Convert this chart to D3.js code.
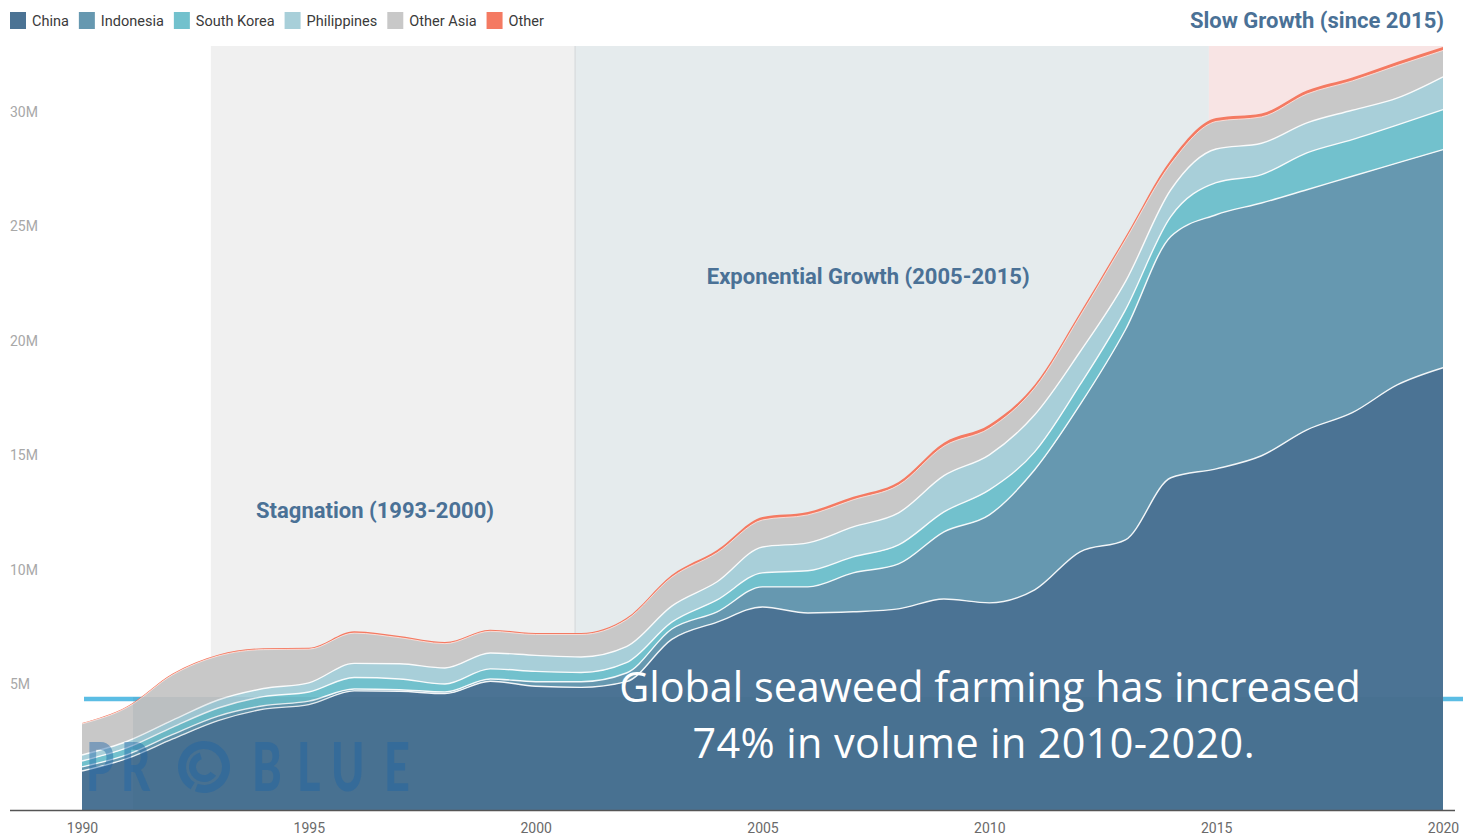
<!DOCTYPE html>
<html>
<head>
<meta charset="utf-8">
<script src="https://cdn.jsdelivr.net/npm/d3@7"></script>
<style>
  html, body { margin: 0; padding: 0; background: #fff; }
  svg { display: block; }
</style>
</head>
<body>
<svg id="chart" width="1463" height="835"></svg>
<script>
// ---- data (million tonnes, per producer) ----
const years = [1990,1991,1992,1993,1994,1995,1996,1997,1998,1999,2000,2001,2002,2003,2004,2005,2006,2007,2008,2009,2010,2011,2012,2013,2014,2015,2016,2017,2018,2019,2020];
const china      = [1.70,2.25,3.10,3.90,4.40,4.60,5.20,5.18,5.08,5.62,5.40,5.35,5.60,7.45,8.20,8.86,8.60,8.65,8.78,9.21,9.04,9.61,11.27,11.79,14.50,14.89,15.46,16.59,17.34,18.56,19.30];
const indonesia  = [0.18,0.17,0.20,0.20,0.15,0.15,0.08,0.07,0.07,0.10,0.20,0.25,0.38,0.45,0.45,0.88,1.14,1.70,1.96,2.93,3.84,5.24,6.42,9.17,10.53,11.09,11.03,10.48,10.32,9.68,9.52];
const southKorea = [0.26,0.30,0.32,0.35,0.40,0.40,0.50,0.47,0.35,0.44,0.45,0.40,0.45,0.30,0.52,0.61,0.70,0.70,0.83,0.87,1.09,0.78,0.87,0.87,0.87,1.40,1.24,1.61,1.60,1.66,1.75];
const philippines= [0.26,0.28,0.30,0.35,0.35,0.40,0.62,0.66,0.70,0.69,0.70,0.68,0.70,0.70,0.79,1.13,1.22,1.31,1.40,1.58,1.53,1.62,1.44,1.23,1.17,1.47,1.37,1.31,1.28,1.18,1.43];
const otherAsia  = [1.36,1.48,1.98,1.92,1.70,1.47,1.32,1.14,1.06,0.95,0.91,0.98,1.17,1.26,1.27,1.18,1.22,1.18,1.21,1.29,1.16,1.17,1.56,1.82,1.13,1.20,1.15,1.26,1.28,1.42,1.15];
const other      = [0.04,0.05,0.06,0.06,0.06,0.06,0.08,0.07,0.07,0.07,0.07,0.07,0.08,0.10,0.12,0.13,0.13,0.13,0.14,0.15,0.15,0.14,0.14,0.14,0.18,0.15,0.15,0.15,0.15,0.16,0.15];

const seriesNames  = ["China","Indonesia","South Korea","Philippines","Other Asia","Other"];
const seriesValues = [china, indonesia, southKorea, philippines, otherAsia, other];
const seriesColors = ["#4b7394","#6698b0","#72c1cd","#a8cfd9","#c8c8c8","#f47a62"];

// shaded periods (start/end as fractional years)
const periodNames  = ["Stagnation (1993-2000)","Exponential Growth (2005-2015)","Slow Growth (since 2015)"];
const periodStarts = [1992.84, 2000.87, 2014.84];
const periodEnds   = [2000.87, 2014.84, 2020];
const periodColors = ["#f0f0f0","#e5ebed","#f8e4e4"];
// label anchors: [year, value in millions]; the last one sits in the header
const periodLabelAt = [[1996.46, 13.1],[2007.33, 23.3],[null, null]];

const xTicks = [1990,1995,2000,2005,2010,2015,2020];
const yTicks = [5,10,15,20,25,30];
const yTickLabels = ["5M","10M","15M","20M","25M","30M"];

const headline = ["Global seaweed farming has increased", "74% in volume in 2010-2020."];

// ---- layout ----
const W = 1463, H = 835;
const svg = d3.select("#chart");
const table = years.map((yr, i) => {
  const row = { year: yr };
  seriesNames.forEach((n, k) => row[n] = seriesValues[k][i]);
  return row;
});
const stacked = d3.stack().keys(seriesNames)(table);
const maxTotal = d3.max(stacked[stacked.length - 1], d => d[1]);

const x = d3.scaleLinear().domain([1990, 2020]).range([82, 1443]);
const y = d3.scaleLinear().domain([0, maxTotal]).range([810, 47]);

// period backgrounds
const gPeriods = svg.append("g");
gPeriods.selectAll("rect").data(periodNames).join("rect")
  .attr("x", (d, i) => x(periodStarts[i]))
  .attr("width", (d, i) => x(periodEnds[i]) - x(periodStarts[i]))
  .attr("y", y(maxTotal) - 1)
  .attr("height", y(0) - y(maxTotal) + 1)
  .attr("fill", (d, i) => periodColors[i]);
gPeriods.append("line")
  .attr("x1", x(periodEnds[0])).attr("x2", x(periodEnds[0]))
  .attr("y1", y(maxTotal) - 1).attr("y2", y(0))
  .attr("stroke", "#dadee0").attr("stroke-width", 1.5);

// highlight rule behind the chart
svg.append("line")
  .attr("x1", 84).attr("x2", W)
  .attr("y1", 699).attr("y2", 699)
  .attr("stroke", "#5bbde4").attr("stroke-width", 4.5);

// stacked areas
const area = d3.area()
  .x(d => x(d.data.year))
  .y0(d => y(d[0]))
  .y1(d => y(d[1]))
  .curve(d3.curveMonotoneX);
const topLine = d3.line()
  .x(d => x(d.data.year))
  .y(d => y(d[1]))
  .curve(d3.curveMonotoneX);

const gAreas = svg.append("g");
gAreas.selectAll("path.layer").data(stacked).join("path")
  .attr("class", "layer")
  .attr("d", area)
  .attr("fill", (d, i) => seriesColors[i]);
// white separators between layers
gAreas.selectAll("path.sep").data(stacked.slice(0, 4)).join("path")
  .attr("class", "sep")
  .attr("d", topLine)
  .attr("fill", "none")
  .attr("stroke", "#ffffff")
  .attr("stroke-opacity", 0.9)
  .attr("stroke-width", 1.4);
gAreas.append("path")
  .attr("d", topLine(stacked[4]))
  .attr("fill", "none")
  .attr("stroke", "#fbe9e4")
  .attr("stroke-width", 0.8);

// period labels
const labelColor = "#4a7196";
svg.append("g").selectAll("text").data(periodNames.slice(0, 2)).join("text")
  .attr("x", (d, i) => x(periodLabelAt[i][0]))
  .attr("y", (d, i) => y(periodLabelAt[i][1]))
  .attr("dy", "0.35em")
  .attr("text-anchor", "middle")
  .attr("font-family", "Roboto, sans-serif")
  .attr("font-weight", 700)
  .attr("font-size", 22)
  .attr("fill", labelColor)
  .text(d => d);
svg.append("text")
  .attr("x", 1444).attr("y", 20).attr("dy", "0.35em")
  .attr("text-anchor", "end")
  .attr("font-family", "Roboto, sans-serif")
  .attr("font-weight", 700)
  .attr("font-size", 22)
  .attr("fill", labelColor)
  .text(periodNames[2]);

// y axis labels (sit above their gridline)
svg.append("g").selectAll("text").data(yTicks).join("text")
  .attr("x", 10)
  .attr("y", d => y(d) - 11)
  .attr("dy", "0.35em")
  .attr("font-family", "Roboto, sans-serif")
  .attr("font-size", 14)
  .attr("fill", "#a8a8a8")
  .text((d, i) => yTickLabels[i]);

// x axis
const xAxis = d3.axisBottom(x).tickValues(xTicks).tickFormat(d3.format("d")).tickSize(0).tickPadding(13);
const gx = svg.append("g").attr("transform", `translate(0,${y(0)})`).call(xAxis);
gx.select(".domain").remove();
gx.selectAll("text")
  .attr("font-family", "Roboto, sans-serif")
  .attr("font-size", 14)
  .attr("fill", "#6a6a6a");
svg.append("line")
  .attr("x1", 10).attr("x2", 1455)
  .attr("y1", y(0) + 0.5).attr("y2", y(0) + 0.5)
  .attr("stroke", "#555").attr("stroke-width", 1.6);

// PROBLUE watermark: condensed letters as one text run, the "O" drawn as a swirl
const logoColor = "#1f66a8", logoOpacity = 0.45, logoSqueeze = 0.68;
const logoText = svg.append("text")
  .attr("transform", `translate(0,791) scale(${logoSqueeze},1)`)
  .attr("font-family", "Lato, sans-serif")
  .attr("font-weight", 900)
  .attr("font-size", 66)
  .attr("fill", logoColor).attr("fill-opacity", logoOpacity);
const logoLetters = [["P",86],["R",121],["B",252],["L",297],["U",331],["E",384]];
logoLetters.forEach(([ch, lx]) => logoText.append("tspan").attr("x", lx / logoSqueeze).text(ch));
const swirl = svg.append("g").attr("transform", "translate(204,767)")
  .attr("fill", logoColor).attr("fill-opacity", logoOpacity);
swirl.append("path").attr("d", d3.arc()({innerRadius: 18, outerRadius: 26, startAngle: -2.6, endAngle: 3.5}));
swirl.append("path").attr("d", d3.arc()({innerRadius: 8, outerRadius: 15, startAngle: 2.2, endAngle: 6.0}));

// translucent caption panel
svg.append("rect")
  .attr("x", 133).attr("y", 697)
  .attr("width", 1443 - 133).attr("height", 112)
  .attr("fill", "#2b5578").attr("fill-opacity", 0.08);

// caption
const cap = svg.append("g")
  .attr("font-family", "'Open Sans', 'Noto Sans', sans-serif")
  .attr("fill", "#ffffff");
const l1 = cap.append("text").attr("x", 990).attr("y", 702).attr("text-anchor", "middle")
  .attr("font-size", 40).text(headline[0]);
const w1 = l1.node().getComputedTextLength();
const fs = 40 * 742 / w1;
l1.attr("font-size", fs);
cap.append("text").attr("x", 973.5).attr("y", 758).attr("text-anchor", "middle")
  .attr("font-size", fs)
  .attr("textLength", 562).attr("lengthAdjust", "spacing")
  .text(headline[1]);

// legend
const legend = svg.append("g");
let lx = 10;
seriesNames.forEach((n, i) => {
  const g = legend.append("g").attr("transform", `translate(${lx},12)`);
  g.append("rect").attr("width", 16).attr("height", 17).attr("fill", seriesColors[i]);
  const t = g.append("text").attr("x", 22).attr("y", 9).attr("dy", "0.35em")
    .attr("font-family", "Roboto, sans-serif").attr("font-size", 14.5).attr("fill", "#3a3a3a").text(n);
  lx += 22 + t.node().getComputedTextLength() + 10;
});
</script>
</body>
</html>
